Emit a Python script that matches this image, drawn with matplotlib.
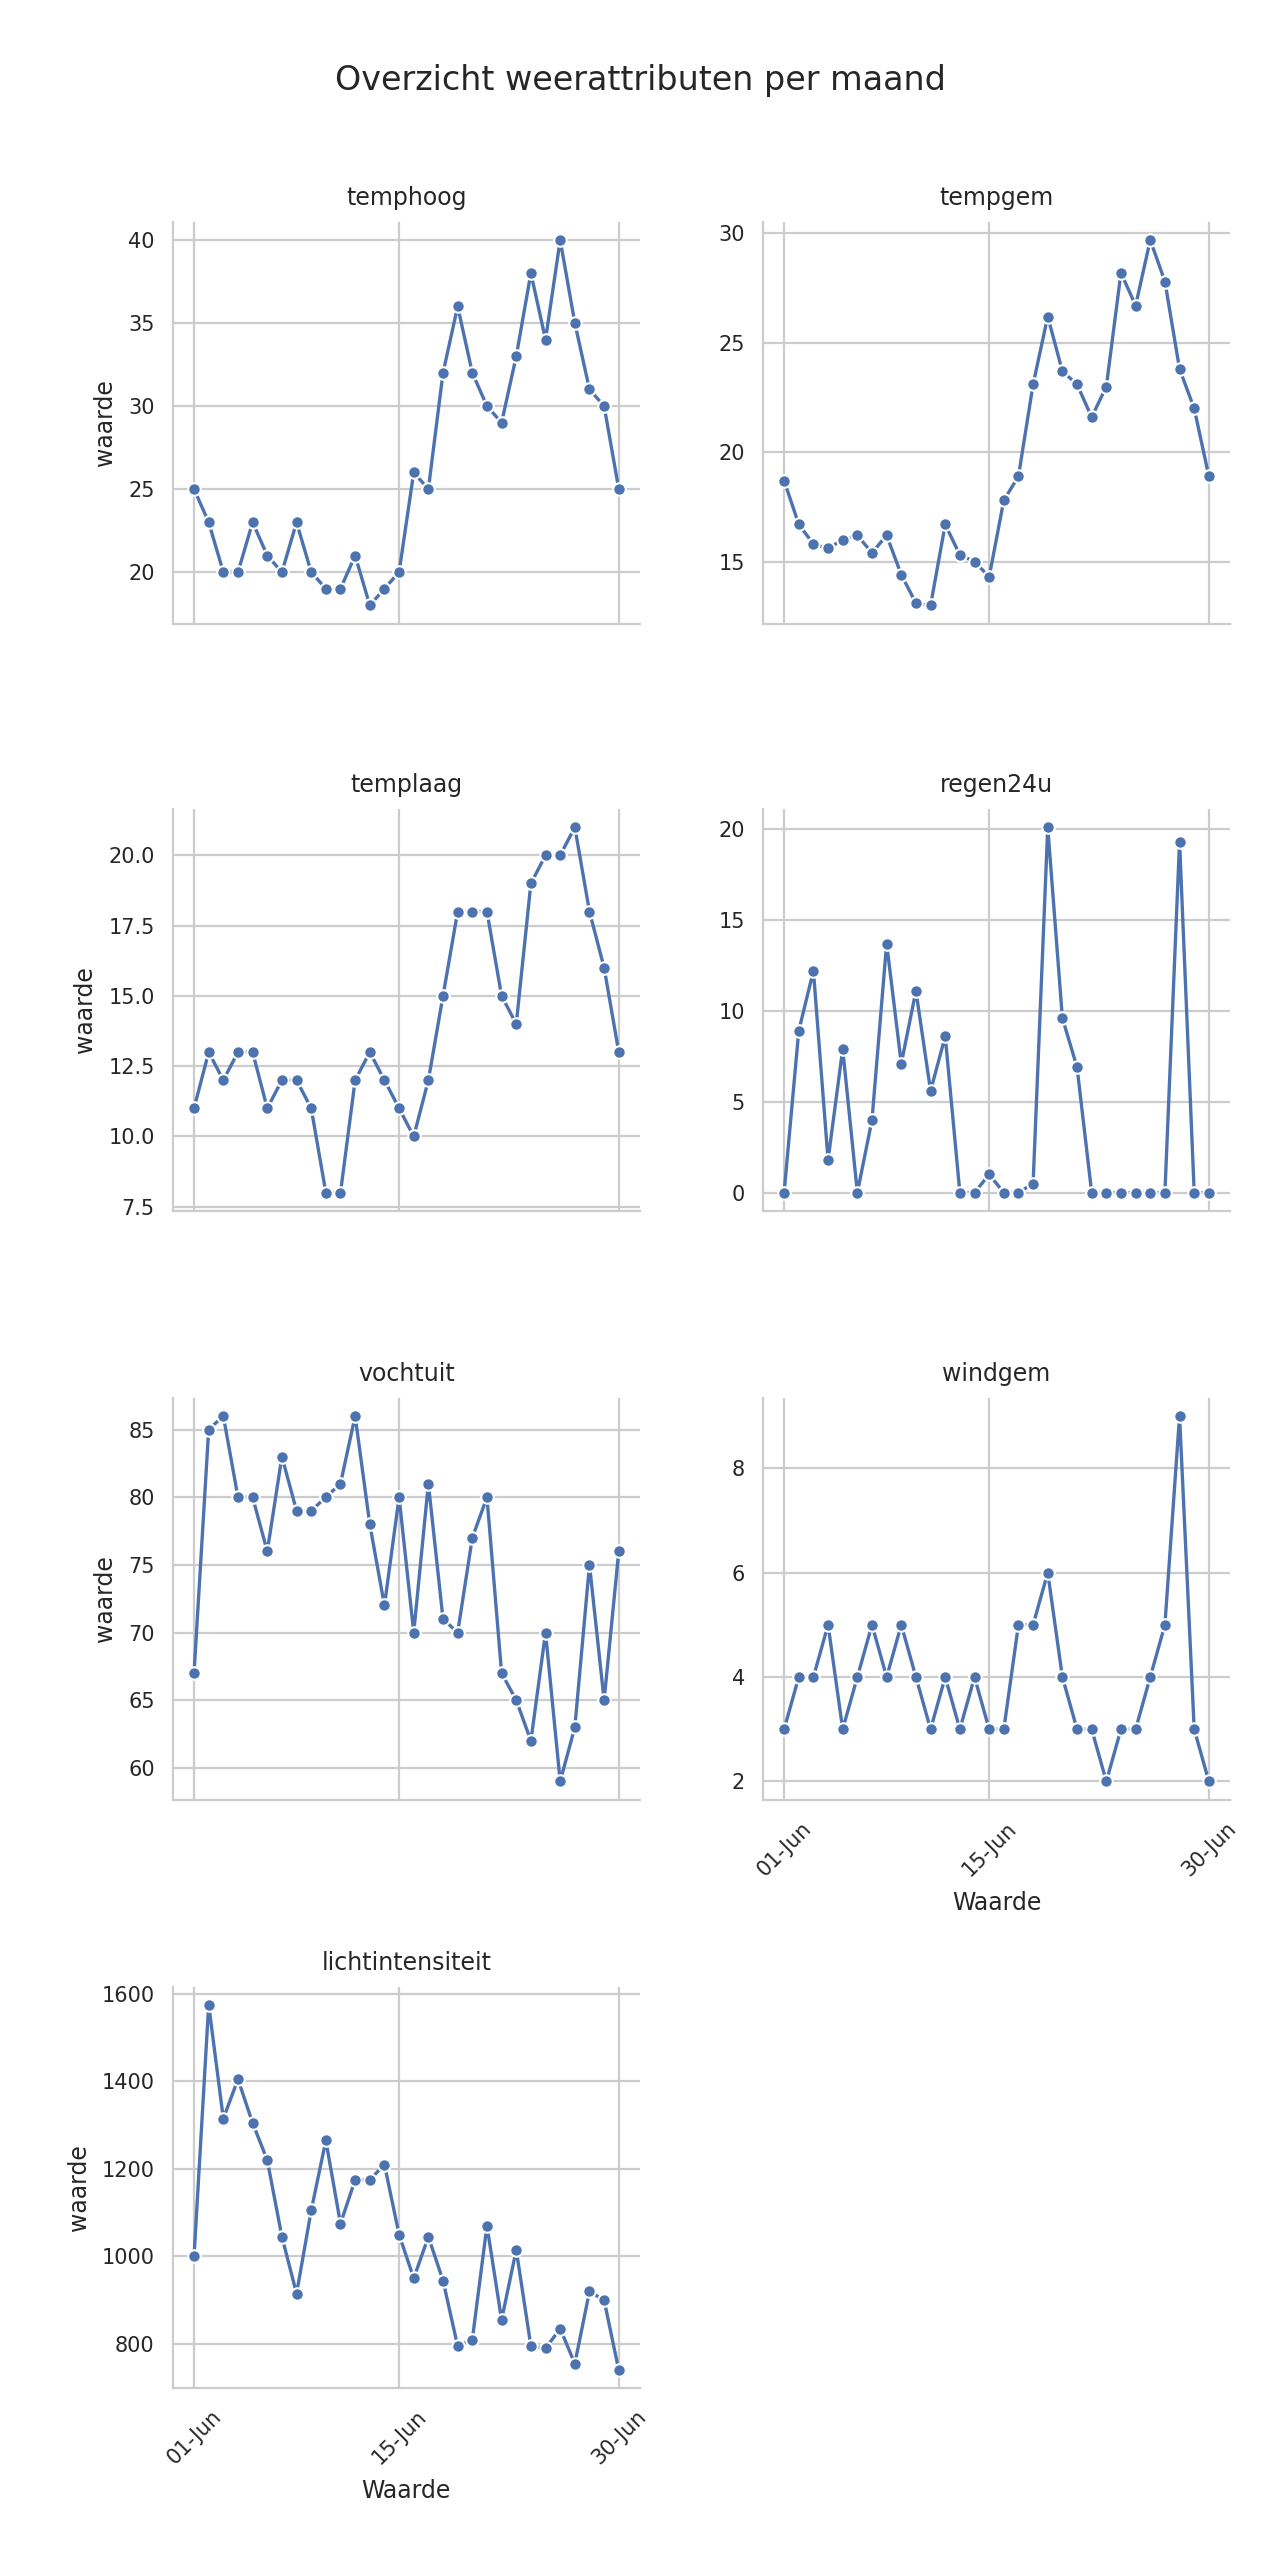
import matplotlib
matplotlib.use("Agg")
import matplotlib.pyplot as plt
import matplotlib.dates as mdates
from matplotlib.ticker import MultipleLocator
import seaborn as sns
import pandas as pd

dates = pd.date_range("2023-06-01", "2023-06-30")
names = ["temphoog", "tempgem", "templaag", "regen24u", "vochtuit", "windgem", "lichtintensiteit"]
temphoog = [25,23,20,20,23,21,20,23,20,19,19,21,18,19,20,26,25,32,36,32,30,29,33,38,34,40,35,31,30,25]
tempgem = [18.7,16.7,15.8,15.6,16.0,16.2,15.4,16.2,14.4,13.1,13.0,16.7,15.3,15.0,14.3,17.8,18.9,23.1,26.2,23.7,23.1,21.6,23.0,28.2,26.7,29.7,27.8,23.8,22.0,18.9]
templaag = [11,13,12,13,13,11,12,12,11,8,8,12,13,12,11,10,12,15,18,18,18,15,14,19,20,20,21,18,16,13]
regen24u = [0,8.9,12.2,1.8,7.9,0,4.0,13.7,7.1,11.1,5.6,8.6,0,0,1.0,0,0,0.5,20.1,9.6,6.9,0,0,0,0,0,0,19.3,0,0]
vochtuit = [67,85,86,80,80,76,83,79,79,80,81,86,78,72,80,70,81,71,70,77,80,67,65,62,70,59,63,75,65,76]
windgem = [3,4,4,5,3,4,5,4,5,4,3,4,3,4,3,3,5,5,6,4,3,3,2,3,3,4,5,9,3,2]
licht = [1000,1575,1315,1405,1305,1220,1045,915,1105,1265,1075,1175,1175,1210,1050,950,1045,945,795,810,1070,855,1015,795,790,835,755,920,900,740]
series = [temphoog, tempgem, templaag, regen24u, vochtuit, windgem, licht]
xticks = pd.to_datetime(["2023-06-01", "2023-06-15", "2023-06-30"])
ysteps = [5, 5, 2.5, 5, 5, 2, 200]

sns.set_theme(style="whitegrid", rc={"grid.linewidth": 0.8, "axes.linewidth": 0.8})
fig = plt.figure(figsize=(6.4, 12.8), dpi=200)
lefts = [0.135, 0.596]
bottoms = [1-0.2436, 1-0.473, 1-0.703, 1-0.933]
w, h = 0.365, 0.157
for i, (n, vals) in enumerate(zip(names, series)):
    r, c = divmod(i, 2)
    ax = fig.add_axes([lefts[c], bottoms[r], w, h])
    sns.lineplot(x=dates, y=vals, marker="o", ax=ax, color="#4c72b0", markersize=4.5, linewidth=1.2)
    ax.set_title(n, fontsize=8.5)
    ax.set_xticks(xticks)
    ax.yaxis.set_major_locator(MultipleLocator(ysteps[i]))
    ax.xaxis.set_major_formatter(mdates.DateFormatter("%d-%b"))
    ax.tick_params(labelsize=7.5, length=3, width=0.8, color="#cccccc")
    sns.despine(ax=ax)
    for s in ["left", "bottom"]:
        ax.spines[s].set_color("#cccccc")
    ax.set_ylabel("waarde" if c == 0 else "", fontsize=8.5)
    if i >= 5:
        ax.set_xlabel("Waarde", fontsize=8.5)
        plt.setp(ax.get_xticklabels(), rotation=45)
    else:
        ax.set_xlabel("")
        ax.tick_params(labelbottom=False)
fig.suptitle("Overzicht weerattributen per maand", fontsize=12, y=0.975)
fig.savefig("out.png", dpi=200)
